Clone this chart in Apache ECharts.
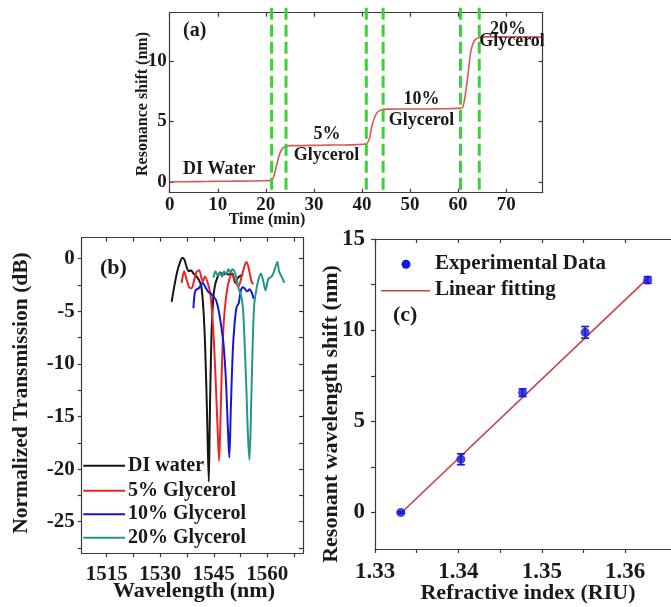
<!DOCTYPE html>
<html>
<head>
<meta charset="utf-8">
<script src="https://cdn.jsdelivr.net/npm/echarts@6/dist/echarts.min.js"></script>
<style>
  html, body { margin: 0; padding: 0; background: #fff; }
  #chart { width: 671px; height: 607px; }
</style>
</head>
<body>
<div id="chart"></div>
<script>
// ---------- (a) real-time resonance shift ----------
const timeMin = [0, 3, 6, 9, 12, 15, 18, 20, 21.2, 21.7, 22.2, 22.7, 23.2, 23.7, 24.3, 25, 27, 30, 33, 36, 39,
  40.9, 41.5, 42.0, 42.5, 43.0, 43.5, 44.4, 46, 49, 52, 55, 58, 60.5, 61.0, 61.5, 62.0, 62.7, 63.4, 64.4, 66,
  69, 72, 75, 77.6];
const shiftNm = [0.0, 0.01, 0.02, 0.04, 0.05, 0.06, 0.08, 0.1, 0.12, 0.5, 1.3, 2.1, 2.6, 2.85, 2.95, 3.0, 3.0,
  3.02, 3.04, 3.05, 3.08, 3.15, 3.5, 4.5, 5.2, 5.65, 5.85, 6.0, 6.02, 6.03, 6.03, 6.04, 6.06, 6.1, 6.2, 7.2,
  8.7, 10.9, 11.7, 11.95, 12.0, 12.0, 12.0, 12.0, 11.98];
// times at which the solution was exchanged (dashed guides) and their vertical extent
const solutionChanges = [21.2, 24.2, 40.9, 44.4, 60.5, 64.4];
const guideSpan = [14.4, -0.9];
const aTicksX = [0, 10, 20, 30, 40, 50, 60, 70];
const aTicksY = [0, 5, 10];

// ---------- (b) transmission spectra ----------
const waterWl = [1533.2, 1533.9, 1534.7, 1535.5, 1536.2, 1536.8, 1537.4, 1538.0, 1538.6, 1539.3, 1540.0, 1540.8,
  1541.5, 1542.1, 1542.6, 1543.1, 1543.6, 1543.9, 1544.3, 1544.8, 1545.3, 1546.0, 1546.8, 1547.6, 1548.4,
  1549.2, 1550.2, 1551.0, 1551.8, 1552.6, 1553.2];
const waterDb = [-4.1, -2.7, -1.3, -0.4, 0.1, -0.1, -0.8, -1.2, -1.1, -1.4, -1.6, -2.0, -2.6, -4.8, -8.5,
  -14.5, -21.2, -15.0, -8.0, -4.0, -2.6, -1.8, -1.3, -1.5, -1.4, -1.5, -1.4, -2.3, -1.8, -1.6, -1.5];

const gly5Wl = [1536.0, 1536.7, 1537.4, 1538.1, 1538.8, 1539.4, 1540.1, 1540.9, 1541.9, 1542.5, 1543.4,
  1544.1, 1544.8, 1545.4, 1546.0, 1546.5, 1546.9, 1547.3, 1547.8, 1548.4, 1549.1, 1550.0, 1550.9, 1551.9,
  1552.8, 1553.7, 1554.2, 1554.9, 1555.6, 1556.1];
const gly5Db = [-2.3, -1.2, -2.0, -2.7, -2.8, -2.2, -1.3, -1.1, -2.2, -1.7, -2.4, -3.5, -6.5, -10.5, -15.5,
  -19.2, -15.0, -10.0, -6.0, -3.8, -2.3, -1.5, -2.0, -2.65, -1.7, -0.6, -0.3, -1.06, -2.2, -2.4];

const gly10Wl = [1539.3, 1539.7, 1540.2, 1540.8, 1541.4, 1541.9, 1542.5, 1543.0, 1543.6, 1544.2, 1544.9,
  1545.6, 1546.3, 1547.0, 1547.7, 1548.4, 1549.0, 1549.35, 1549.8, 1550.3, 1550.8, 1551.4, 1552.0, 1552.6,
  1553.2, 1553.8, 1554.4, 1555.0, 1555.6, 1556.2];
const gly10Db = [-4.7, -3.2, -2.9, -2.8, -2.5, -2.3, -2.6, -2.9, -3.2, -3.3, -3.6, -3.9, -4.8, -6.2, -8.0,
  -11.5, -16.5, -18.9, -14.0, -9.0, -6.3, -4.6, -4.2, -3.0, -2.7, -2.9, -3.1, -2.9, -3.2, -3.8];

const gly20Wl = [1544.9, 1545.5, 1546.1, 1546.7, 1547.3, 1547.9, 1548.5, 1549.1, 1549.7, 1550.2, 1550.8,
  1551.4, 1552.0, 1552.6, 1553.2, 1553.7, 1554.2, 1554.6, 1555.0, 1555.4, 1555.8, 1556.3, 1556.9, 1557.5,
  1558.2, 1558.9, 1559.5, 1560.3, 1561.2, 1561.9, 1562.8, 1563.3, 1564.0, 1564.8];
const gly20Db = [-1.8, -1.2, -1.6, -1.3, -1.7, -1.2, -1.5, -1.0, -1.3, -1.0, -1.2, -1.9, -2.9, -3.4, -4.8,
  -8.5, -13.0, -17.0, -19.1, -15.0, -9.5, -4.5, -3.0, -2.0, -1.4, -2.2, -3.0, -1.9, -1.7, -1.2, -0.3, -1.2,
  -1.7, -2.3];

const bTicksX = [1515, 1530, 1545, 1560];
const bMinorX = [1522.5, 1537.5, 1552.5, 1567.5];
const bTicksY = [0, -5, -10, -15, -20, -25];
const bMinorY = [-2.5, -7.5, -12.5, -17.5, -22.5, -27.5];

// ---------- (c) sensitivity ----------
const riIndex = [1.3331, 1.3403, 1.3477, 1.3552, 1.3627];
const riShift = [0.0, 2.92, 6.57, 9.88, 12.75];
const riShiftErr = [0.05, 0.30, 0.21, 0.32, 0.18];
const fitIndex = [1.3331, 1.3628];
const fitShift = [-0.04, 12.88];
const cTicksX = [1.33, 1.34, 1.35, 1.36];
const cMinorX = [1.335, 1.345, 1.355];
const cTicksY = [0, 5, 10, 15];
const cMinorY = [2.5, 7.5, 12.5];

// ---------- styling ----------
const SERIF = '"Liberation Serif", "Times New Roman", serif';
const INK = '#1a1a1a';
const FRAME = '#3a3a3a';
const zip = (xs, ys) => xs.map((x, i) => [x, ys[i]]);

function frameAxis(gridIndex, position, min, max, o) {
  o = o || {};
  const ticks = o.ticks || [];
  return {
    type: 'value', gridIndex, position, min, max,
    splitLine: { show: false },
    axisLine: { show: true, onZero: false, lineStyle: { color: FRAME, width: 1.2 } },
    axisTick: {
      show: ticks.length > 0, inside: !!o.inside, length: o.tickLen || 4,
      customValues: ticks, lineStyle: { color: FRAME, width: 1.2 }
    },
    axisLabel: o.labels ? {
      show: true, customValues: o.labels, margin: o.margin,
      color: INK, fontFamily: SERIF, fontWeight: 'bold', fontSize: o.fontSize,
      formatter: o.formatter || (v => String(v))
    } : { show: false }
  };
}

function txt(text, x, y, size, opt) {
  opt = opt || {};
  const align = opt.align || 'left';
  return {
    type: 'text', x, y, rotation: opt.rot || 0, silent: true, z: 100,
    style: {
      text, font: 'bold ' + size + 'px ' + SERIF, fill: INK,
      textAlign: align, align: align, textVerticalAlign: 'middle', verticalAlign: 'middle'
    }
  };
}

const colWater = '#151515', col5 = '#ee2424', col10 = '#1616d8', col20 = '#23978a';

// one dashed vertical guide per solution change
const guideSeries = solutionChanges.map(t => ({
  type: 'line', xAxisIndex: 0, yAxisIndex: 0, clip: false, z: 4, silent: true,
  data: [[t, guideSpan[0]], [t, guideSpan[1]]],
  showSymbol: false, symbol: 'none',
  lineStyle: { color: '#3ad13a', width: 3, type: [12, 5] }
}));

const option = {
  animation: false,
  backgroundColor: '#ffffff',
  grid: [
    { left: 169.7, top: 12.7, width: 373, height: 180 },
    { left: 81.7, top: 237.7, width: 221.3, height: 315.6 },
    { left: 375, top: 239, width: 309.6, height: 310 }
  ],
  xAxis: [
    frameAxis(0, 'bottom', 0, 77.6, { ticks: aTicksX, inside: true, labels: aTicksX, margin: 3, fontSize: 19 }),
    frameAxis(0, 'top', 0, 77.6, { ticks: aTicksX, inside: true }),
    frameAxis(1, 'bottom', 1508, 1570, { ticks: bTicksX.concat(bMinorX), labels: bTicksX, margin: 11, fontSize: 21 }),
    frameAxis(1, 'top', 1508, 1570, { ticks: bTicksX.concat(bMinorX), inside: true }),
    frameAxis(2, 'bottom', 1.33, 1.3655, {
      ticks: cTicksX.concat(cMinorX), labels: cTicksX, margin: 12, fontSize: 23,
      formatter: v => v.toFixed(2)
    }),
    frameAxis(2, 'top', 1.33, 1.3655, { ticks: cTicksX.concat(cMinorX), inside: true })
  ],
  yAxis: [
    frameAxis(0, 'left', -0.9, 14, { ticks: aTicksY, inside: true, labels: aTicksY, margin: 3, fontSize: 19 }),
    frameAxis(0, 'right', -0.9, 14, { ticks: aTicksY, inside: true }),
    frameAxis(1, 'left', -28, 2, { ticks: bTicksY.concat(bMinorY), labels: bTicksY, margin: 7, fontSize: 21 }),
    frameAxis(1, 'right', -28, 2, { ticks: bTicksY.concat(bMinorY), inside: true }),
    frameAxis(2, 'left', -2, 15, { ticks: cTicksY.concat(cMinorY), labels: cTicksY, margin: 10, fontSize: 23 })
  ],
  series: [
    {
      type: 'line', xAxisIndex: 0, yAxisIndex: 0, data: zip(timeMin, shiftNm),
      showSymbol: false, smooth: 0.2, lineStyle: { color: '#d65a5a', width: 1.6 }, z: 3
    },
    ...guideSeries,
    { type: 'line', name: 'DI water', xAxisIndex: 2, yAxisIndex: 2, data: zip(waterWl, waterDb),
      showSymbol: false, smooth: 0.3, lineStyle: { color: colWater, width: 2 } },
    { type: 'line', name: '5% Glycerol', xAxisIndex: 2, yAxisIndex: 2, data: zip(gly5Wl, gly5Db),
      showSymbol: false, smooth: 0.3, lineStyle: { color: col5, width: 2 } },
    { type: 'line', name: '10% Glycerol', xAxisIndex: 2, yAxisIndex: 2, data: zip(gly10Wl, gly10Db),
      showSymbol: false, smooth: 0.3, lineStyle: { color: col10, width: 2 } },
    { type: 'line', name: '20% Glycerol', xAxisIndex: 2, yAxisIndex: 2, data: zip(gly20Wl, gly20Db),
      showSymbol: false, smooth: 0.3, lineStyle: { color: col20, width: 2 } },
    { type: 'line', name: 'Linear fitting', xAxisIndex: 4, yAxisIndex: 4, data: zip(fitIndex, fitShift),
      showSymbol: false, lineStyle: { color: '#cc4040', width: 1.6 }, z: 2 },
    {
      type: 'custom', xAxisIndex: 4, yAxisIndex: 4, z: 3,
      data: riIndex.map((x, i) => [x, riShift[i], riShiftErr[i]]),
      encode: { x: 0, y: 1 },
      renderItem: function (params, api) {
        const x = api.value(0), y = api.value(1), e = api.value(2);
        const hi = api.coord([x, y + e]), lo = api.coord([x, y - e]);
        const w = 4, st = { stroke: '#1515e0', lineWidth: 1.6 };
        return {
          type: 'group', children: [
            { type: 'line', shape: { x1: hi[0], y1: hi[1], x2: lo[0], y2: lo[1] }, style: st },
            { type: 'line', shape: { x1: hi[0] - w, y1: hi[1], x2: hi[0] + w, y2: hi[1] }, style: st },
            { type: 'line', shape: { x1: lo[0] - w, y1: lo[1], x2: lo[0] + w, y2: lo[1] }, style: st }
          ]
        };
      }
    },
    { type: 'scatter', name: 'Experimental Data', xAxisIndex: 4, yAxisIndex: 4, data: zip(riIndex, riShift),
      symbol: 'circle', symbolSize: 9, itemStyle: { color: '#1515e0' }, z: 4 }
  ],
  graphic: [
    // (a) annotations
    txt('(a)', 183, 31, 20),
    txt('DI Water', 183, 169, 18),
    txt('5%', 327, 134, 18, { align: 'center' }),
    txt('Glycerol', 326.5, 155, 18, { align: 'center' }),
    txt('10%', 421.5, 99.5, 18, { align: 'center' }),
    txt('Glycerol', 421.5, 120.7, 18, { align: 'center' }),
    txt('20%', 508, 29, 18, { align: 'center' }),
    txt('Glycerol', 512, 41, 18, { align: 'center' }),
    txt('Resonance shift (nm)', 143, 104, 16, { align: 'center', rot: Math.PI / 2 }),
    txt('Time (min)', 267, 220, 16, { align: 'center' }),
    // (b) annotations and legend
    txt('(b)', 100, 268, 22),
    { type: 'line', silent: true, z: 100, shape: { x1: 83.3, y1: 465.7, x2: 125, y2: 465.7 }, style: { stroke: colWater, lineWidth: 2 } },
    { type: 'line', silent: true, z: 100, shape: { x1: 83.3, y1: 490.7, x2: 125, y2: 490.7 }, style: { stroke: col5, lineWidth: 2 } },
    { type: 'line', silent: true, z: 100, shape: { x1: 83.3, y1: 514.3, x2: 125, y2: 514.3 }, style: { stroke: col10, lineWidth: 2 } },
    { type: 'line', silent: true, z: 100, shape: { x1: 83.3, y1: 537.7, x2: 125, y2: 537.7 }, style: { stroke: col20, lineWidth: 2 } },
    txt('DI water', 128, 466, 20),
    txt('5% Glycerol', 128, 490.5, 20),
    txt('10% Glycerol', 128, 514, 20),
    txt('20% Glycerol', 128, 537.5, 20),
    txt('Normalized Transmission (dB)', 21.7, 393, 21.5, { align: 'center', rot: Math.PI / 2 }),
    txt('Wavelength (nm)', 194, 591.5, 22, { align: 'center' }),
    // (c) annotations and legend
    { type: 'circle', silent: true, z: 100, shape: { cx: 406, cy: 264.3, r: 4.5 }, style: { fill: '#1515e0' } },
    txt('Experimental Data', 435, 264, 21),
    { type: 'line', silent: true, z: 100, shape: { x1: 381, y1: 290.7, x2: 430, y2: 290.7 }, style: { stroke: '#cc4040', lineWidth: 1.6 } },
    txt('Linear fitting', 435, 290, 21),
    txt('(c)', 393, 315, 22),
    txt('Resonant wavelength shift (nm)', 331.7, 414, 22, { align: 'center', rot: Math.PI / 2 }),
    txt('Refractive index (RIU)', 528, 593, 22, { align: 'center' })
  ]
};

const chart = echarts.init(document.getElementById('chart'), null, { renderer: 'canvas' });
chart.setOption(option);
</script>
</body>
</html>
